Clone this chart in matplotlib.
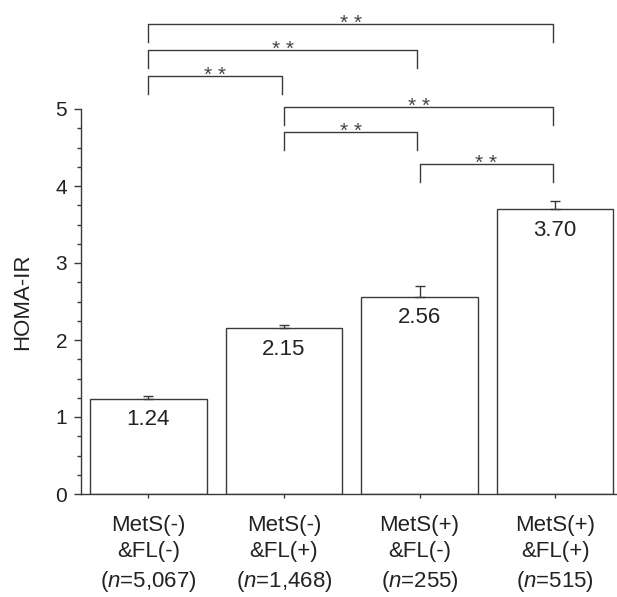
import matplotlib
matplotlib.use("Agg")
import matplotlib.pyplot as plt
from matplotlib.ticker import FixedLocator

plt.rcParams['font.family'] = ['Liberation Sans', 'DejaVu Sans']
plt.rcParams['mathtext.fontset'] = 'custom'
plt.rcParams['mathtext.rm'] = 'Liberation Sans'
plt.rcParams['mathtext.it'] = 'Liberation Sans:italic'

# data
groups = ["MetS(-)\n&FL(-)\n($\\it{n}$=5,067)",
          "MetS(-)\n&FL(+)\n($\\it{n}$=1,468)",
          "MetS(+)\n&FL(-)\n($\\it{n}$=255)",
          "MetS(+)\n&FL(+)\n($\\it{n}$=515)"]
homa = [1.24, 2.15, 2.56, 3.70]
homa_err = [0.03, 0.05, 0.14, 0.11]
value_labels = ["1.24", "2.15", "2.56", "3.70"]

# significance brackets: (from group, to group, line height)
pairs_from = [0, 0, 0, 1, 1, 2]
pairs_to = [3, 2, 1, 3, 2, 3]
pair_y = [6.10, 5.76, 5.43, 5.03, 4.70, 4.29]
pair_txt = ["* *"] * 6

dark = '#3a3a3a'

fig = plt.figure(figsize=(6.17, 5.97), dpi=100)
ax = fig.add_axes([81/617, 103/597, 536/617, 494/597])

x = list(range(len(homa)))
ax.bar(x, homa, width=0.86, color='white', edgecolor=dark, linewidth=1.0, zorder=2)
ax.errorbar(x, homa, yerr=[[0]*4, homa_err], fmt='none', ecolor=dark,
            elinewidth=1.0, capsize=3.5, capthick=1.0, zorder=3)

for xi, h, t in zip(x, homa, value_labels):
    ax.annotate(t, (xi, h), xytext=(0, -7.5), textcoords='offset points',
                ha='center', va='top', fontsize=16, color='#222222')

leg = 0.234
for a, b, yy, t in zip(pairs_from, pairs_to, pair_y, pair_txt):
    xa = a + 0.0
    xb = b - 0.015
    ax.plot([xa, xa, xb, xb], [yy - leg, yy, yy, yy - leg], color=dark,
            linewidth=1.0, clip_on=False, zorder=4)
    ax.annotate(t, ((xa + xb) / 2, yy), xytext=(0, -3.5), textcoords='offset points',
                ha='center', va='baseline', fontsize=15, color='#444444')

ax.set_xlim(-0.496, 3.456)
ax.set_ylim(0, 494/77)
ax.set_xticks(x)
ax.set_xticklabels(groups, fontsize=16, linespacing=1.35, color='#222222')
ax.set_yticks([0, 1, 2, 3, 4, 5])
ax.yaxis.set_minor_locator(FixedLocator([i * 0.25 for i in range(21) if i % 4]))
ax.tick_params(axis='y', which='major', length=5, width=1.0, color=dark,
               labelsize=15, pad=5, labelcolor='#222222')
ax.tick_params(axis='y', which='minor', length=3, width=1.0, color=dark)
ax.tick_params(axis='x', which='major', length=3, width=1.0, color=dark, pad=12)
ax.set_ylabel("HOMA-IR", fontsize=16, color='#222222')
ax.yaxis.set_label_coords(-0.09, 0.39)

ax.spines['top'].set_visible(False)
ax.spines['right'].set_visible(False)
ax.spines['left'].set_bounds(0, 5)
ax.spines['left'].set_color(dark)
ax.spines['bottom'].set_color(dark)
ax.spines['left'].set_linewidth(1.0)
ax.spines['bottom'].set_linewidth(1.0)

fig.savefig("out.png", dpi=100)
